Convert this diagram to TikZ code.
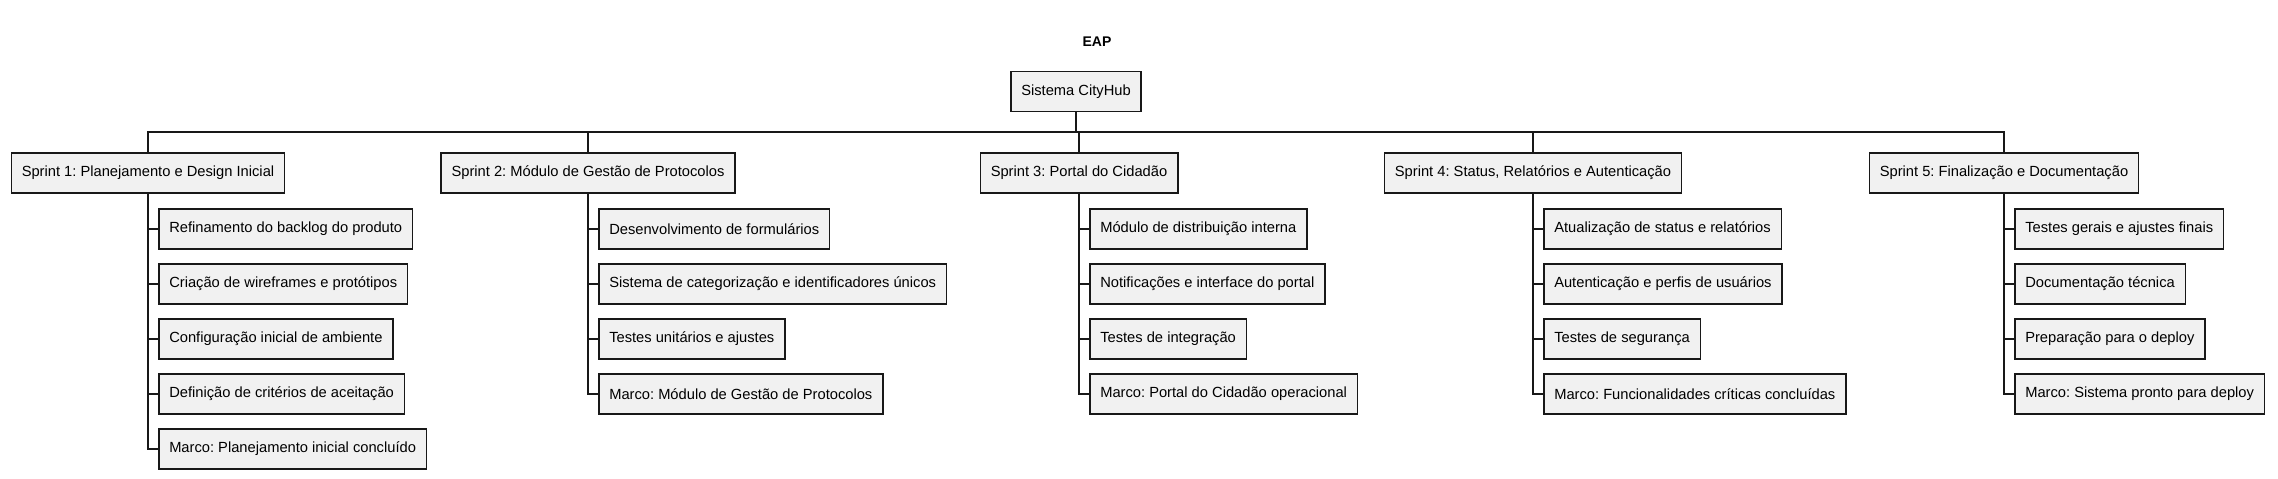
\documentclass[tikz,border=0pt]{standalone}
\usepackage{fontspec}
\setmainfont{Liberation Sans}
\usepackage{tikz}
\usepackage{xcolor}
\usetikzlibrary{calc}
\usetikzlibrary{positioning}
\definecolor{boxfill}{HTML}{F1F1F1}
\definecolor{boxline}{HTML}{181818}
\frenchspacing

\begin{document}
\begin{tikzpicture}[x=1pt,y=-1pt,
	every node/.style={font=\fontsize{14.7}{17}\selectfont},
	wbox/.style={draw=boxline, fill=boxfill, line width=1.5pt, minimum height=40, inner xsep=10.5, inner ysep=0},
	task/.style={wbox, anchor=west},
	link/.style={draw=boxline, line width=1.5pt}]

\useasboundingbox (0,0) rectangle (2278,479);

% Define the spacing between the task rows.
\def\spacing{55}
\def\taskx{10}
\def\tasky{35}

\node[font=\fontsize{14}{17}\selectfont\bfseries] (title) at (1097,42) {EAP};

\node[wbox] (root) at (1076,91.5) {Sistema CityHub};

\coordinate (bus) at (0,132);

\node[wbox] (s1) at (148,173) {Sprint 1: Planejamento e Design Inicial};
\node[wbox] (s2) at (588,173) {Sprint 2: Módulo de Gestão de Protocolos};
\node[wbox] (s3) at (1079,173) {Sprint 3: Portal do Cidadão};
\node[wbox] (s4) at (1533,173) {Sprint 4: Status, Relatórios e Autenticação};
\node[wbox] (s5) at (2004,173) {Sprint 5: Finalização e Documentação};

% Sprint 1
\node[task] (s1a) at ($(s1.south)+(\taskx,\tasky)$) {Refinamento do backlog do produto};
\node[task] (s1b) at ($(s1a.west)+(0,\spacing)$) {Criação de wireframes e protótipos};
\node[task] (s1c) at ($(s1b.west)+(0,\spacing)$) {Configuração inicial de ambiente};
\node[task] (s1d) at ($(s1c.west)+(0,\spacing)$) {Definição de critérios de aceitação};
\node[task] (s1e) at ($(s1d.west)+(0,\spacing)$) {Marco: Planejamento inicial concluído};

% Sprint 2
\node[task] (s2a) at ($(s2.south)+(\taskx,\tasky)$) {Desenvolvimento de formulários};
\node[task] (s2b) at ($(s2a.west)+(0,\spacing)$) {Sistema de categorização e identificadores únicos};
\node[task] (s2c) at ($(s2b.west)+(0,\spacing)$) {Testes unitários e ajustes};
\node[task] (s2d) at ($(s2c.west)+(0,\spacing)$) {Marco: Módulo de Gestão de Protocolos};

% Sprint 3
\node[task] (s3a) at ($(s3.south)+(\taskx,\tasky)$) {Módulo de distribuição interna};
\node[task] (s3b) at ($(s3a.west)+(0,\spacing)$) {Notificações e interface do portal};
\node[task] (s3c) at ($(s3b.west)+(0,\spacing)$) {Testes de integração};
\node[task] (s3d) at ($(s3c.west)+(0,\spacing)$) {Marco: Portal do Cidadão operacional};

% Sprint 4
\node[task] (s4a) at ($(s4.south)+(\taskx,\tasky)$) {Atualização de status e relatórios};
\node[task] (s4b) at ($(s4a.west)+(0,\spacing)$) {Autenticação e perfis de usuários};
\node[task] (s4c) at ($(s4b.west)+(0,\spacing)$) {Testes de segurança};
\node[task] (s4d) at ($(s4c.west)+(0,\spacing)$) {Marco: Funcionalidades críticas concluídas};

% Sprint 5
\node[task] (s5a) at ($(s5.south)+(\taskx,\tasky)$) {Testes gerais e ajustes finais};
\node[task] (s5b) at ($(s5a.west)+(0,\spacing)$) {Documentação técnica};
\node[task] (s5c) at ($(s5b.west)+(0,\spacing)$) {Preparação para o deploy};
\node[task] (s5d) at ($(s5c.west)+(0,\spacing)$) {Marco: Sistema pronto para deploy};

% Connect root to the sprints
\foreach \s in {s1,s2,s3,s4,s5}{
	\path[link] (root.south) -- (root.south |- bus) -| (\s.north);
}

% Connect the sprints to their tasks
\foreach \t in {s1a,s1b,s1c,s1d,s1e}{
	\path[link] (s1.south) |- (\t.west);
}
\foreach \t in {s2a,s2b,s2c,s2d}{
	\path[link] (s2.south) |- (\t.west);
}
\foreach \t in {s3a,s3b,s3c,s3d}{
	\path[link] (s3.south) |- (\t.west);
}
\foreach \t in {s4a,s4b,s4c,s4d}{
	\path[link] (s4.south) |- (\t.west);
}
\foreach \t in {s5a,s5b,s5c,s5d}{
	\path[link] (s5.south) |- (\t.west);
}

\end{tikzpicture}
\end{document}
